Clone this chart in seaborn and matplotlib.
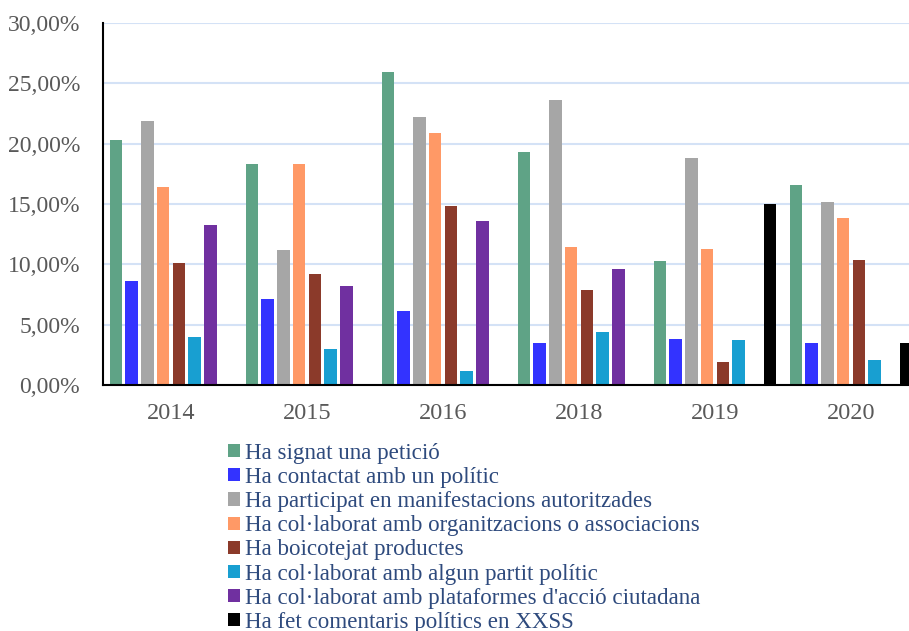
import matplotlib
matplotlib.use("Agg")
import matplotlib.pyplot as plt
from matplotlib.patches import Patch
from matplotlib.ticker import FuncFormatter
import numpy as np
import pandas as pd
import seaborn as sns

years = ["2014", "2015", "2016", "2018", "2019", "2020"]
series = [
    "Ha signat una petició",
    "Ha contactat amb un polític",
    "Ha participat en manifestacions autoritzades",
    "Ha col·laborat amb organitzacions o associacions",
    "Ha boicotejat productes",
    "Ha col·laborat amb algun partit polític",
    "Ha col·laborat amb plataformes d'acció ciutadana",
    "Ha fet comentaris polítics en XXSS",
]
colors = ["#5fa386", "#3333ff", "#a6a6a6", "#ff9966",
          "#8b3a2a", "#189fd1", "#7030a0", "#000000"]

nan = np.nan
peticio = [20.3, 18.3, 25.9, 19.3, 10.3, 16.6]
contacte = [8.6, 7.1, 6.1, 3.5, 3.8, 3.5]
manifestacions = [21.9, 11.2, 22.2, 23.6, 18.8, 15.2]
organitzacions = [16.4, 18.3, 20.9, 11.4, 11.3, 13.8]
boicot = [10.1, 9.2, 14.8, 7.9, 1.9, 10.4]
partit = [4.0, 3.0, 1.2, 4.4, 3.7, 2.1]
plataformes = [13.3, 8.2, 13.6, 9.6, nan, nan]
xxss = [nan, nan, nan, nan, 15.0, 3.5]

values = [peticio, contacte, manifestacions, organitzacions,
          boicot, partit, plataformes, xxss]

rows = []
for name, vals in zip(series, values):
    for year, v in zip(years, vals):
        rows.append({"year": year, "serie": name, "pct": v / 100})
df = pd.DataFrame(rows)

sns.set_theme(style="white")
plt.rcParams["font.family"] = ["Liberation Serif", "DejaVu Serif"]

fig = plt.figure(figsize=(9.09, 6.31), dpi=100)
ax = fig.add_axes([103 / 909, 1 - 385 / 631, 1 - 103 / 909, (385 - 23) / 631])

sns.barplot(data=df, x="year", y="pct", hue="serie", order=years,
            hue_order=series, palette=colors, saturation=1, errorbar=None,
            width=0.925, gap=0.2, linewidth=0, legend=False, ax=ax)

ax.set_xlim(-0.5, 5.426)
ax.set_ylim(0, 0.30)
ax.set_yticks(np.arange(0, 0.301, 0.05))
ax.yaxis.set_major_formatter(FuncFormatter(lambda v, p: f"{v * 100:.2f}%".replace(".", ",")))
ax.grid(axis="y", color="#d4e2f6", linewidth=1.5)
ax.set_axisbelow(True)
ax.set_xlabel("")
ax.set_ylabel("")
for side in ["top", "right"]:
    ax.spines[side].set_visible(False)
for side in ["left", "bottom"]:
    ax.spines[side].set_color("black")
    ax.spines[side].set_linewidth(1.5)
ax.tick_params(axis="y", labelsize=17, labelcolor="#595959", length=0, pad=16.5)
ax.tick_params(axis="x", labelsize=17.5, labelcolor="#595959", length=0, pad=13)

handles = [Patch(facecolor=c, edgecolor="none", label=s) for s, c in zip(series, colors)]
fig.legend(handles=handles, loc="upper left", bbox_to_anchor=(228 / 909, 1 - 443 / 631),
           frameon=False, fontsize=16.6, labelcolor="#2e4a7d",
           handlelength=0.5, handleheight=0.5, handletextpad=0.22,
           labelspacing=0.135, borderpad=0, borderaxespad=0)

fig.savefig("out.png", dpi=100)
